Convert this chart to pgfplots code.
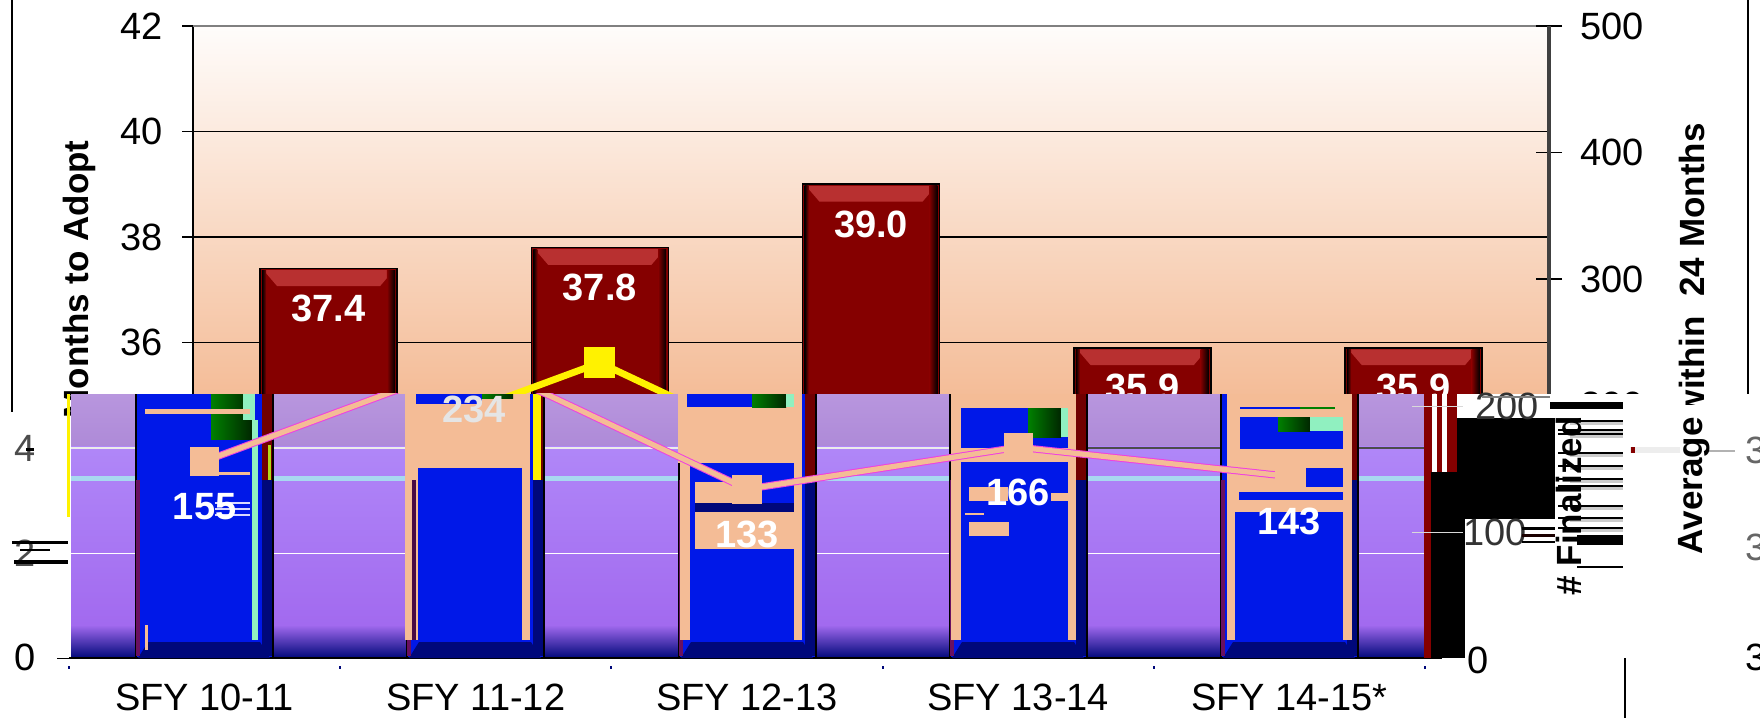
\documentclass[border=0pt]{standalone}
\usepackage{fontspec}
\setmainfont{Liberation Sans}
\usepackage{pgfplots}
\pgfplotsset{compat=1.18}
\definecolor{peach}{HTML}{F4BC96}
\definecolor{maroonb}{HTML}{850000}
\definecolor{bevel}{HTML}{B83030}
\definecolor{blueb}{HTML}{0018E8}
\definecolor{navyb}{HTML}{00087A}
\definecolor{greenb}{HTML}{008000}
\definecolor{mint}{HTML}{90F0C0}
\definecolor{edgep}{HTML}{6A1060}
\definecolor{stripe}{HTML}{A8D8F0}
\definecolor{pinkb}{HTML}{F040E0}
\newcommand{\fs}{\fontsize{19}{22}\selectfont}
\newcommand{\fr}{\fontsize{17.5}{20}\selectfont}
\newcommand{\R}[5]{\fill[#5] (axis cs:#1,#2) rectangle (axis cs:#3,#4);}
\newcommand{\G}[4]{\shade[left color=greenb,right color=black!85!green] (axis cs:#1,#2) rectangle (axis cs:#3,#4);}
\newcommand{\Bev}[2]{%
  \fill[bevel] (axis cs:{#1-0.24},{#2-0.03}) -- (axis cs:{#1+0.24},{#2-0.03}) -- (axis cs:{#1+0.19},{#2-0.33}) -- (axis cs:{#1-0.19},{#2-0.33}) -- cycle;
  \shade[left color=maroonb,right color=black] (axis cs:{#1+0.215},{#2-0.03}) rectangle (axis cs:{#1+0.245},30);
  \shade[left color=black,right color=maroonb] (axis cs:{#1-0.245},{#2-0.03}) rectangle (axis cs:{#1-0.23},30);}
\pgfplotsset{px/.style={at={(0pt,0pt)},anchor=south west,scale only axis,width=880pt,height=359pt,
  xmin=0,xmax=1760,ymin=0,ymax=718,y dir=reverse,hide axis,clip=false},
  cat/.style={xmin=-0.5,xmax=4.5,scale only axis,width=678pt}}
\begin{document}
\begin{tikzpicture}[font=\fs]
\useasboundingbox (0,0) rectangle (880pt,359pt);
% --- reference chart: months to adopt (bars)
\begin{axis}[cat,at={(96.5pt,29.5pt)},anchor=south west,height=316.5pt,
  ymin=30,ymax=42,ytick={30,32,...,42},
  axis y line*=left,axis x line=none,
  ymajorgrids,grid style={black,line width=0.7pt},
  tick style={black,line width=0.7pt},major tick length=5.5pt,tick align=outside,
  yticklabel style={font=\fs,/pgf/number format/assume math mode=true,xshift=-6pt},
  axis line style={black,line width=0.8pt},
  axis background/.style={top color=white!60!peach!10,bottom color={rgb,255:red,237;green,143;blue,81}},
  ybar,bar width=68.5pt,
  nodes near coords={\pgfmathprintnumber[fixed,fixed zerofill,precision=1,assume math mode=true]{\pgfplotspointmeta}},
  every node near coord/.append style={anchor=center,yshift=-20pt,white,font=\fs\bfseries}]
\addplot[draw=black,fill=maroonb,line width=0.8pt] coordinates {(0,37.4)(1,37.8)(2,39.0)(3,35.9)(4,35.9)};
\Bev{0}{37.4}\Bev{1}{37.8}\Bev{2}{39.0}\Bev{3}{35.9}\Bev{4}{35.9}
\draw[gray,line width=1.5pt] (rel axis cs:0,1) -- (rel axis cs:1,1);
\end{axis}
% --- number finalized within 24 months (line, right axis)
\begin{axis}[cat,at={(96.5pt,29.5pt)},anchor=south west,height=316.5pt,
  ymin=0,ymax=500,ytick={0,100,...,500},clip=false,
  axis y line*=right,axis x line=none,
  tick style={black,line width=0.7pt},major tick length=13pt,tick align=center,
  yticklabel style={font=\fs,/pgf/number format/assume math mode=true,xshift=5.5pt},
  axis line style={black!75,line width=1.6pt}]
\addplot[yellow,line width=3.4pt,mark=square*,mark size=6pt,mark options={fill=yellow,draw=yellow,rounded corners=1pt}]
  coordinates {(0,155)(1,234)(2,133)(3,166)(4,143)};
\end{axis}
% --- upper labels, frame, the cover of the displaced lower strip and its background
\begin{axis}[px]
\draw[black,line width=1pt] (axis cs:12,0) -- (axis cs:12,412);
\draw[black,line width=1pt] (axis cs:1748,0) -- (axis cs:1748,394);
\R{0}{394}{1760}{718}{white}
\draw[black,line width=1pt] (axis cs:12,0) -- (axis cs:12,412);
\node[rotate=90,anchor=east,font=\fr\bfseries,inner sep=0pt] at (axis cs:79,140) {Months to Adopt};
\R{67}{394}{70}{517}{yellow}
% displaced tick label remnants
\node[anchor=east,inner sep=0pt] at (axis cs:36,657) {0};
\node[anchor=east,inner sep=0pt,text=black!70] at (axis cs:36,448) {4};
\node[anchor=east,inner sep=0pt,text=black!70] at (axis cs:36,553) {2};
\R{12}{541}{68}{544}{black}\R{20}{549}{50}{551}{black}\R{14}{560}{68}{564}{black}\R{26}{448}{34}{451}{black}
\R{57}{657.5}{72}{659}{black}
% purple gradient
\shade[top color={rgb,255:red,184;green,150;blue,222},bottom color={rgb,255:red,174;green,138;blue,216}] (axis cs:71,394) rectangle (axis cs:1425,446);
\shade[top color={rgb,255:red,176;green,135;blue,248},bottom color={rgb,255:red,162;green,106;blue,239}] (axis cs:71,446) rectangle (axis cs:1425,625);
\shade[top color={rgb,255:red,162;green,106;blue,239},bottom color=navyb] (axis cs:71,625) rectangle (axis cs:1425,658);
\R{71}{476}{1425}{481}{stripe}
\R{71}{447}{1086}{449}{white!92!black}
\R{1086}{447}{1425}{449}{black!70}
\R{71}{552.5}{1425}{554}{white}
\end{axis}
% --- bars displaced in the lower strip
\begin{axis}[cat,at={(34.5pt,30pt)},anchor=south west,height=132pt,
  ymin=30,ymax=35.005,axis y line=none,axis x line=bottom,
  xtick={0,1,2,3,4},xticklabels={SFY 10-11,SFY 11-12,SFY 12-13,SFY 13-14,SFY 14-15*},
  major tick length=0pt,
  x axis line style={-,black,line width=1pt},
  xticklabel style={font=\fs,yshift=-9.5pt},
  ybar,bar width=68.5pt]
\addplot[draw=black,fill=blueb,line width=1pt] coordinates {(0,37.4)(1,37.8)(2,39.0)(3,35.9)(4,35.9)};
\end{axis}
% --- scan-line damage over the lower strip
\begin{axis}[px]
% bottom bevels and bar edges
\foreach \c in {204,475,747,1018,1289}{
  \edef\tmp{\noexpand\fill[navyb] (axis cs:\c-56,642) -- (axis cs:\c+56,642) -- (axis cs:\c+66,658) -- (axis cs:\c-66,658) -- cycle;
   \noexpand\fill[edgep] (axis cs:\c-68,480) rectangle (axis cs:\c-64,656);
   \noexpand\fill[navyb] (axis cs:\c+58,480) rectangle (axis cs:\c+68,656);
   \noexpand\fill[maroonb!85!black] (axis cs:\c+58,394) rectangle (axis cs:\c+68,480);}
  \tmp}
% bar 1
\G{211}{394}{252}{439}
\R{243}{394}{255}{420}{mint}
\R{252}{420}{258}{640}{mint}
\R{145}{409}{250}{414}{peach}
\R{217}{472}{250}{475}{peach}
\R{215}{508}{250}{510}{white!85!blue}\R{215}{502}{250}{504}{white!85!blue}\R{215}{514}{250}{516}{white!85!blue}
\R{145}{625}{148}{650}{peach}
\R{268}{445}{271}{480}{yellow!70!green}
% bar 2
\R{405}{394}{530}{468}{peach}
\R{405}{468}{418}{640}{peach}
\R{522}{468}{530}{640}{peach}
\R{416}{394}{482}{404}{blueb}
\G{482}{394}{513}{398}
\R{533}{394}{541}{480}{yellow}
\R{412}{480}{416}{640}{black!30!edgep}
% bar 3
\R{678}{394}{802}{463}{peach}
\R{794}{463}{802}{640}{peach}
\R{687}{394}{752}{407}{blueb}
\G{752}{394}{786}{407}
\R{786}{394}{794}{407}{mint}
\R{695}{482}{735}{503}{peach}
\R{695}{503}{794}{512}{navyb}
\R{695}{512}{794}{549}{peach}
\R{680}{463}{690}{640}{peach}
% bar 4
\R{951}{394}{1076}{408}{peach}
\R{951}{408}{961}{640}{peach}
\R{1068}{408}{1076}{640}{peach}
\G{1028}{408}{1061}{437}
\R{1061}{408}{1068}{437}{mint}
\R{961}{448}{1068}{462}{peach}
\R{969}{487}{1008}{501}{peach}
\R{1051}{493}{1068}{501}{peach}
\R{969}{522}{1009}{536}{peach}
\R{965}{513}{984}{515}{peach}
% bar 5
\R{1227}{394}{1352}{512}{peach}
\R{1227}{512}{1235}{640}{peach}
\R{1343}{512}{1352}{640}{peach}
\R{1240}{407}{1300}{409}{blueb}\R{1300}{407}{1335}{409}{greenb}
\R{1240}{417}{1343}{449}{blueb}
\G{1278}{417}{1310}{431}
\R{1310}{417}{1343}{431}{mint}
\R{1306}{468}{1343}{487}{blueb}
\R{1239}{492}{1343}{500}{blueb}
% right side damage
\R{1424}{394}{1457}{472}{maroonb}
\R{1432}{394}{1437}{472}{white}\R{1442}{394}{1447}{472}{white}
\R{1424}{472}{1431}{658}{maroonb}
\R{1431}{472}{1465}{658}{black}
\R{1457}{418}{1555}{519}{black}
\R{1550}{402}{1623}{409}{black}
\R{1412}{405.5}{1463}{407}{white!85!black}
\R{1412}{531.5}{1463}{533}{white!85!black}
\R{1425}{657.5}{1442}{659}{black}
\node[anchor=west,inner sep=0pt,text=black!80] at (axis cs:1475,406) {200};
\R{1482}{396}{1550}{398}{black!50}
\node[anchor=west,inner sep=0pt,text=black!80] at (axis cs:1463,532) {100};
\R{1522}{527}{1555}{530}{black}\R{1522}{534}{1555}{537}{maroonb!20!black}\R{1522}{541}{1555}{543}{black}
\R{1577}{535}{1623}{545}{black}
\R{1577}{566}{1623}{567.5}{black}
\foreach \y in {420,429,433,452,465,478,485,505,517,527}{
  \edef\tmp{\noexpand\fill[black] (axis cs:1558,\y) rectangle (axis cs:1623,\y+2);
  \noexpand\fill[black!20] (axis cs:1570,\y+2) rectangle (axis cs:1623,\y+5);}\tmp}
\node[rotate=90,anchor=east,font=\fr\bfseries,inner sep=0pt] at (axis cs:1569,416) {\# Finalized};
\R{1630}{447}{1680}{453}{black!7}
\R{1631}{447}{1635}{453}{maroonb}
\R{1705}{450}{1735}{451.5}{black!30}
% right title
\node[rotate=90,anchor=east,font=\fr\bfseries,inner sep=0pt] at (axis cs:1692,123) {within~~24 Months};
\R{1670}{405}{1712}{417}{white}
\node[rotate=90,anchor=east,font=\fr\bfseries,inner sep=0pt] at (axis cs:1694,417) {Average};
% wrapped tick label digits and frame
\node[anchor=west,inner sep=0pt] at (axis cs:1745,657) {3};
\node[anchor=west,inner sep=0pt,text=black!60] at (axis cs:1745,450) {3};
\node[anchor=west,inner sep=0pt,text=black!60] at (axis cs:1745,547) {3};
\draw[black,line width=1.2pt] (axis cs:1625,658) -- (axis cs:1625,718);
\node[anchor=center,inner sep=0pt] at (axis cs:1478,660) {0};
% x-axis dots
\foreach \x in {69,340,611,883,1154,1425}{\edef\tmp{\noexpand\fill[navyb] (axis cs:\x-1,666) rectangle (axis cs:\x+1,669);}\tmp}
\end{axis}
% --- finalized series in the displaced strip
\begin{axis}[cat,at={(34.5pt,30pt)},anchor=south west,height=132pt,
  ymin=0,ymax=207.9,hide axis]
\addplot[pinkb,line width=3.6pt] coordinates {(0,155)(1,234)(2,133)(3,166)(4,143)};
\addplot[peach,line width=2.6pt,mark=square*,mark size=6pt,mark options={fill=peach,draw=peach,rounded corners=1pt}]
  coordinates {(0,155)(1,234)(2,133)(3,166)(4,143)};
\end{axis}
\begin{axis}[cat,at={(34.5pt,30pt)},anchor=south west,height=132pt,
  ymin=0,ymax=207.9,hide axis,clip=false,
  nodes near coords,
  every node near coord/.append style={anchor=center,yshift=-22.5pt,white,font=\fs\bfseries,/pgf/number format/assume math mode=true}]
\addplot[draw=none,mark=none] coordinates {(0,155)(2,133)(3,166)(4,143)};
\end{axis}
\begin{axis}[px]
\node[white!90!black,font=\fs\bfseries,inner sep=0pt] at (axis cs:474,409) {234};
\end{axis}
\end{tikzpicture}
\end{document}
